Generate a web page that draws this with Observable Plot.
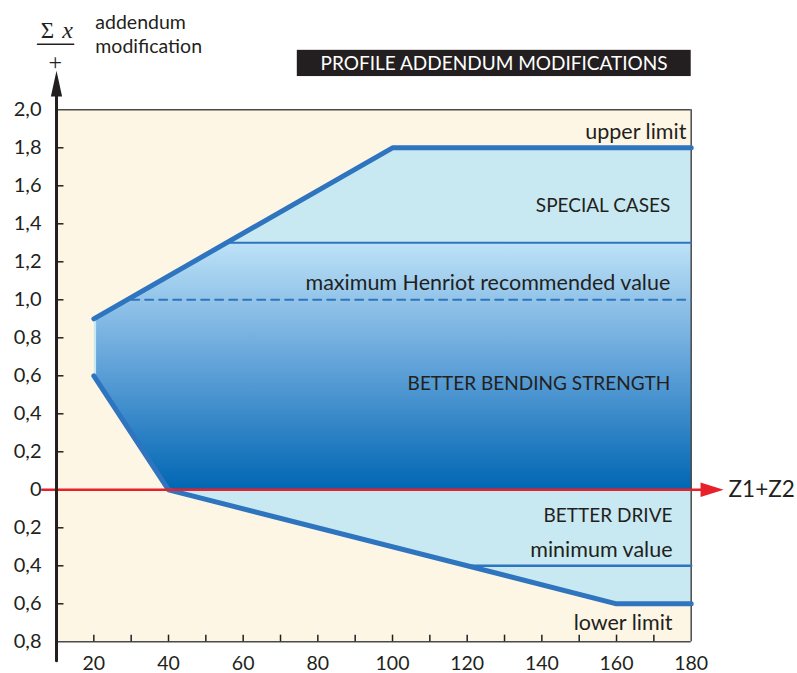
<!DOCTYPE html>
<html>
<head>
<meta charset="utf-8">
<script src="https://cdn.jsdelivr.net/npm/d3@7"></script>
<script src="https://cdn.jsdelivr.net/npm/@observablehq/plot@0.6"></script>
<style>
  html, body { margin: 0; padding: 0; background: #ffffff; }
  #chart svg { display: block; }
</style>
</head>
<body>
<div id="chart"></div>
<script>
// ---------- data ----------
const xTickLabels = [20, 40, 60, 80, 100, 120, 140, 160, 180];
const xTickMarks = [20, 30, 40, 50, 60, 70, 80, 90, 100, 110, 120, 130, 140, 150, 160, 170];
const yTickLabels = [2.0, 1.8, 1.6, 1.4, 1.2, 1.0, 0.8, 0.6, 0.4, 0.2, 0, -0.2, -0.4, -0.6, -0.8];
const yTickMarks = [1.8, 1.6, 1.4, 1.2, 1.0, 0.8, 0.6, 0.4, 0.2, -0.2, -0.4, -0.6];

// outer envelope (upper limit / lower limit)
const upperLimit = [{x: 20, y: 0.9}, {x: 100, y: 1.8}, {x: 180, y: 1.8}];
const lowerLimit = [{x: 20, y: 0.6}, {x: 40, y: 0}, {x: 160, y: -0.6}, {x: 180, y: -0.6}];
const envelope = [
  {x: 20, y: 0.6}, {x: 20, y: 0.9}, {x: 100, y: 1.8}, {x: 180, y: 1.8},
  {x: 180, y: -0.6}, {x: 160, y: -0.6}, {x: 40, y: 0}
];
// recommended zone (gradient)
const recommendedZone = [
  {x: 20.6, y: 0.6}, {x: 20.6, y: 0.9}, {x: 55.6, y: 1.3}, {x: 180, y: 1.3},
  {x: 180, y: 0}, {x: 40, y: 0}
];
const specialCasesLine = [{x: 55.6, y: 1.3}, {x: 180, y: 1.3}];
const henriotLine = [{x: 30, y: 1.0}, {x: 180, y: 1.0}];
const minimumLine = [{x: 120, y: -0.4}, {x: 180, y: -0.4}];

// red Z1+Z2 axis and arrow heads
const zAxisLine = [{x: 6.2, y: 0}, {x: 183, y: 0}];
const zArrowHead = [{x: 182.5, y: 0.038}, {x: 188.7, y: 0}, {x: 182.5, y: -0.038}];
const yAxisLine = [{x: 10, y: 2.1}, {x: 10, y: -0.9}];
const yArrowHead = [{x: 8.5, y: 2.07}, {x: 10, y: 2.205}, {x: 11.5, y: 2.07}];

// annotations
const lowerLabels = [
  {x: 178.7, y: 1.885, text: "upper limit"},
  {x: 174.4, y: 1.09, text: "maximum Henriot recommended value"},
  {x: 175, y: -0.32, text: "minimum value"},
  {x: 175, y: -0.70, text: "lower limit"}
];
const capsLabels = [
  {x: 174.4, y: 1.496, text: "SPECIAL CASES"},
  {x: 174.4, y: 0.558, text: "BETTER BENDING STRENGTH"},
  {x: 175, y: -0.14, text: "BETTER DRIVE"}
];
const zLabel = [{x: 190, y: 0, text: "Z1+Z2"}];
const titleBox = [{x1: 74.5, x2: 180, y1: 2.175, y2: 2.313}];
const titleText = [{x: 127.2, y: 2.243, text: "PROFILE ADDENDUM MODIFICATIONS"}];
const yTitleLines = [{x: 20.4, y: 2.46, text: "addendum"}, {x: 20.4, y: 2.33, text: "modification"}];
const sigmaText = [{x: 7.6, y: 2.418, text: "Σ"}];
const xVarText = [{x: 13.0, y: 2.418, text: "x"}];
const plusText = [{x: 9.7, y: 2.25, text: "+"}];
const fractionBar = [{x: 4.9, y: 2.345}, {x: 14.6, y: 2.345}];

// ---------- styling ----------
const FONT = "Lato, 'Liberation Sans', sans-serif";
const INK = "#231f20";
const LINE_BLUE = "#2e74bf";
const fmt = d => d === 0 ? "0" : Math.abs(d).toFixed(1).replace(".", ",");

const gradientDefs = () => {
  const defs = d3.create("svg:defs");
  const g = defs.append("linearGradient").attr("id", "zoneGrad")
    .attr("x1", 0).attr("y1", 0).attr("x2", 0).attr("y2", 1);
  g.append("stop").attr("offset", "0%").attr("stop-color", "#bde2f7");
  g.append("stop").attr("offset", "45%").attr("stop-color", "#6aa8dc");
  g.append("stop").attr("offset", "100%").attr("stop-color", "#0066b3");
  return defs.node();
};

const chart = Plot.plot({
  width: 797,
  height: 673,
  marginLeft: 56,
  marginRight: 106.3,
  marginTop: 109.3,
  marginBottom: 31.7,
  x: {domain: [10, 180], axis: null},
  y: {domain: [-0.8, 2.0], axis: null},
  style: {fontFamily: FONT, background: "#ffffff"},
  marks: [
    gradientDefs,
    Plot.frame({fill: "#fdf6e4", stroke: null}),
    // envelope fill
    Plot.line(envelope, {x: "x", y: "y", fill: "#c8e9f1", stroke: "none", curve: "linear-closed"}),
    Plot.line(recommendedZone, {x: "x", y: "y", fill: "url(#zoneGrad)", stroke: "none", curve: "linear-closed"}),
    // frame lines
    Plot.ruleY([2.0], {x1: 10, x2: 180, stroke: "#4a4a4a", strokeWidth: 1.5}),
    Plot.ruleY([-0.8], {x1: 10, x2: 180, stroke: "#4a4a4a", strokeWidth: 1.5}),
    Plot.ruleX([180], {y1: -0.8, y2: 2.0, stroke: "#4a4a4a", strokeWidth: 1.5}),
    // ticks
    Plot.ruleY(yTickMarks, {x1: 10, x2: 12, stroke: INK, strokeWidth: 1.5}),
    Plot.ruleX(xTickMarks, {y1: -0.8, y2: -0.765, stroke: INK, strokeWidth: 1.5}),
    // internal lines
    Plot.line(specialCasesLine, {x: "x", y: "y", stroke: LINE_BLUE, strokeWidth: 2}),
    Plot.line(minimumLine, {x: "x", y: "y", stroke: LINE_BLUE, strokeWidth: 2.5}),
    Plot.line(henriotLine, {x: "x", y: "y", stroke: LINE_BLUE, strokeWidth: 2, strokeDasharray: "8,6"}),
    Plot.line(upperLimit, {x: "x", y: "y", stroke: LINE_BLUE, strokeWidth: 5, strokeLinejoin: "miter"}),
    Plot.line(lowerLimit, {x: "x", y: "y", stroke: LINE_BLUE, strokeWidth: 5, strokeLinejoin: "miter"}),
    // red Z axis
    Plot.line(zAxisLine, {x: "x", y: "y", stroke: "#e8202a", strokeWidth: 2.5}),
    Plot.line(zArrowHead, {x: "x", y: "y", fill: "#e8202a", stroke: "none", curve: "linear-closed"}),
    // y axis with arrow
    Plot.line(yAxisLine, {x: "x", y: "y", stroke: INK, strokeWidth: 3}),
    Plot.line(yArrowHead, {x: "x", y: "y", fill: INK, stroke: "none", curve: "linear-closed"}),
    // tick labels
    Plot.text(yTickLabels, {x: 10, y: d => d, text: fmt, dx: -15, textAnchor: "end", fontSize: 20, fill: INK}),
    Plot.text(xTickLabels, {x: d => d, y: -0.8, text: d => String(d), dy: 22, fontSize: 19.5, fill: INK}),
    // annotations
    Plot.text(lowerLabels, {x: "x", y: "y", text: "text", textAnchor: "end", fontSize: 21.5, fill: INK}),
    Plot.text(capsLabels, {x: "x", y: "y", text: "text", textAnchor: "end", fontSize: 19, fill: INK}),
    Plot.text(zLabel, {x: "x", y: "y", text: "text", textAnchor: "start", fontSize: 22.5, fill: INK}),
    Plot.rect(titleBox, {x1: "x1", x2: "x2", y1: "y1", y2: "y2", fill: "#231f20"}),
    Plot.text(titleText, {x: "x", y: "y", text: "text", fontSize: 19, fill: "#ffffff"}),
    Plot.text(yTitleLines, {x: "x", y: "y", text: "text", textAnchor: "start", fontSize: 19.5, fill: INK}),
    Plot.text(sigmaText, {x: "x", y: "y", text: "text", fontSize: 23, fill: INK, fontFamily: "'Liberation Serif', serif"}),
    Plot.text(xVarText, {x: "x", y: "y", text: "text", fontSize: 24, fill: INK, fontFamily: "'Liberation Serif', serif", fontStyle: "italic"}),
    Plot.text(plusText, {x: "x", y: "y", text: "text", fontSize: 24, fill: INK, fontFamily: "'Liberation Serif', serif"}),
    Plot.line(fractionBar, {x: "x", y: "y", stroke: INK, strokeWidth: 1.5})
  ]
});
document.getElementById("chart").appendChild(chart);
</script>
</body>
</html>
